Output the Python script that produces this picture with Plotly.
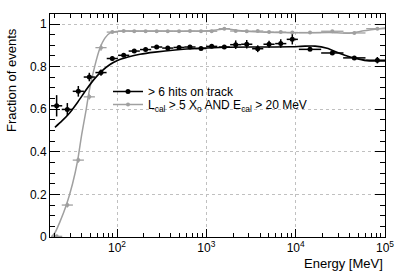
import plotly.graph_objects as go

# ---------------- data ----------------
# black: > 6 hits on track
hits_E = [21.1, 27.8, 36.9, 49.0, 66.2, 88.6, 118.8, 156, 209, 278, 370, 495, 656, 872,
          1148, 1589, 2132, 2833, 3760, 5035, 6808, 9170, 14480, 25720, 45350, 82100]
hits_frac = [0.616, 0.599, 0.684, 0.751, 0.772, 0.838, 0.853, 0.873, 0.880, 0.892, 0.887,
             0.890, 0.892, 0.885, 0.895, 0.892, 0.903, 0.905, 0.884, 0.905, 0.908, 0.928,
             0.881, 0.864, 0.841, 0.830]
hits_err = [0.05, 0.03, 0.025, 0.02, 0.015, 0.01, 0.008, 0.008, 0.008, 0.008, 0.008,
            0.008, 0.008, 0.008, 0.008, 0.008, 0.02, 0.02, 0.016, 0.016, 0.02, 0.024,
            0.008, 0.008, 0.008, 0.015]
# bin half widths in decades
hits_hw = [0.0625] * 22 + [0.125] * 4

# grey: L_cal > 5 X0 AND E_cal > 20 MeV
cal_E = hits_E
cal_frac = [0.003, 0.150, 0.361, 0.658, 0.889, 0.962, 0.967, 0.966, 0.966, 0.966, 0.966,
            0.966, 0.967, 0.966, 0.966, 0.978, 0.967, 0.966, 0.967, 0.962, 0.962, 0.960,
            0.960, 0.966, 0.958, 0.978]
cal_err = [0.004, 0.012, 0.012, 0.012, 0.015, 0.005, 0.004, 0.004, 0.004, 0.004, 0.004,
           0.004, 0.004, 0.004, 0.004, 0.004, 0.004, 0.004, 0.004, 0.004, 0.004, 0.004,
           0.004, 0.004, 0.004, 0.004]
cal_hw = hits_hw

# fitted curves
hits_fit_E = [20.2, 24.2, 29.8, 36.6, 45.0, 55.3, 68.0, 83.5, 102.6, 132.7, 180.8, 266,
              446, 849, 1618, 3990, 8650, 12740, 16480, 22450, 31360, 44970, 62900, 100000]
hits_fit = [0.515, 0.545, 0.585, 0.635, 0.69, 0.74, 0.78, 0.81, 0.83, 0.845, 0.858, 0.868,
            0.878, 0.886, 0.891, 0.892, 0.893, 0.896, 0.896, 0.886, 0.862, 0.841, 0.828, 0.826]

cal_fit_E = [18.5, 20.2, 22.9, 27.1, 31.8, 36.3, 40.2, 44.4, 49.1, 56.2, 64.2, 73.6,
             84.0, 98.5, 125, 239, 870, 1290, 1650, 2440, 4000, 11200, 24100, 40000,
             58000, 100000]
cal_fit = [0.0, 0.02, 0.07, 0.15, 0.25, 0.36, 0.48, 0.58, 0.69, 0.80, 0.885, 0.935, 0.958,
           0.965, 0.967, 0.967, 0.967, 0.972, 0.978, 0.968, 0.962, 0.959, 0.960, 0.957,
           0.968, 0.981]

y_ticks = [0, 0.2, 0.4, 0.6, 0.8, 1.0]
y_ticklabels = ["0", "0.2", "0.4", "0.6", "0.8", "1"]
x_ticks = [100, 1000, 10000, 100000]
x_ticklabels = ["10<sup>2</sup>", "10<sup>3</sup>", "10<sup>4</sup>", "10<sup>5</sup>"]

BLACK = "#000000"
GREY = "#a0a0a0"
FONT = "Liberation Sans, Arial, sans-serif"

W, H = 399, 273
ML, MR, MT, MB = 50, 14, 14, 36
PW, PH = W - ML - MR, H - MT - MB


def px_x(p):
    return (p - ML) / PW


def px_y(p):
    return (H - MB - p) / PH


def xerr(E, hw):
    plus = [e * (10 ** h - 1) for e, h in zip(E, hw)]
    minus = [e * (1 - 10 ** (-h)) for e, h in zip(E, hw)]
    return plus, minus


fig = go.Figure()

# grey fit curve
fig.add_trace(go.Scatter(x=cal_fit_E, y=cal_fit, mode="lines",
                         line=dict(color=GREY, width=1.5, shape="spline", smoothing=0.6),
                         showlegend=False, hoverinfo="skip"))
cp, cm = xerr(cal_E, cal_hw)
fig.add_trace(go.Scatter(x=cal_E, y=cal_frac, mode="markers",
                         marker=dict(color=GREY, size=4, symbol="circle"),
                         error_x=dict(type="data", array=cp, arrayminus=cm, color=GREY, thickness=1.3, width=0),
                         error_y=dict(type="data", array=cal_err, color=GREY, thickness=1.3, width=0),
                         showlegend=False))

# black fit curve
fig.add_trace(go.Scatter(x=hits_fit_E, y=hits_fit, mode="lines",
                         line=dict(color=BLACK, width=1.6, shape="spline", smoothing=0.6),
                         showlegend=False, hoverinfo="skip"))
hp, hm = xerr(hits_E, hits_hw)
fig.add_trace(go.Scatter(x=hits_E, y=hits_frac, mode="markers",
                         marker=dict(color=BLACK, size=5, symbol="circle"),
                         error_x=dict(type="data", array=hp, arrayminus=hm, color=BLACK, thickness=1.5, width=0),
                         error_y=dict(type="data", array=hits_err, color=BLACK, thickness=1.5, width=0),
                         showlegend=False))

# legend entries (each in its own legend box for tight spacing)
fig.add_trace(go.Scatter(x=[None], y=[None], mode="lines+markers", name="&gt; 6 hits on track",
                         line=dict(color=BLACK, width=1.5), marker=dict(color=BLACK, size=5),
                         legend="legend"))
fig.add_trace(go.Scatter(x=[None], y=[None], mode="lines+markers",
                         name="L<sub>cal</sub> &gt; 5 X<sub>o</sub> AND E<sub>cal</sub> &gt; 20 MeV",
                         line=dict(color=GREY, width=1.5), marker=dict(color=GREY, size=4),
                         legend="legend2"))

minor_x = [m * 10 ** d for d in range(1, 5) for m in range(2, 10)]

fig.update_xaxes(type="log", range=[1.25, 5], tickvals=x_ticks, ticktext=x_ticklabels,
                 ticks="inside", ticklen=8, tickwidth=1, tickcolor=BLACK,
                 showline=True, linecolor=BLACK, linewidth=1, mirror="allticks",
                 showgrid=True, gridcolor="#c0c0c0", griddash="dot", gridwidth=1,
                 zeroline=False,
                 minor=dict(tickvals=minor_x, ticks="inside", ticklen=4, tickcolor=BLACK, showgrid=False),
                 tickfont=dict(family=FONT, size=12, color=BLACK))
fig.update_yaxes(range=[0, 1.047], tickvals=y_ticks, ticktext=y_ticklabels,
                 ticks="inside", ticklen=10, tickwidth=1, tickcolor=BLACK,
                 showline=True, linecolor=BLACK, linewidth=1, mirror="allticks",
                 showgrid=True, gridcolor="#c0c0c0", griddash="dot", gridwidth=1,
                 zeroline=False,
                 minor=dict(dtick=0.05, tick0=0, ticks="inside", ticklen=5, tickcolor=BLACK, showgrid=False),
                 tickfont=dict(family=FONT, size=12, color=BLACK))

leg_common = dict(xanchor="left", yanchor="top", bgcolor="rgba(0,0,0,0)",
                  font=dict(family=FONT, size=12, color=BLACK), itemwidth=30, borderwidth=0)

fig.update_layout(
    width=W, height=H,
    margin=dict(l=ML, r=MR, t=MT, b=MB, autoexpand=False),
    paper_bgcolor="white", plot_bgcolor="white",
    font=dict(family=FONT, size=12, color=BLACK),
    legend=dict(x=px_x(108), y=px_y(77), **leg_common),
    legend2=dict(x=px_x(108), y=px_y(90), **leg_common),
    annotations=[
        dict(text="Fraction of events", textangle=-90, xref="paper", yref="paper",
             x=px_x(12), y=px_y(80), xanchor="center", yanchor="middle",
             showarrow=False, font=dict(family=FONT, size=13, color=BLACK)),
        dict(text="Energy [MeV]", xref="paper", yref="paper", x=1.0, y=px_y(263),
             xanchor="right", yanchor="middle", showarrow=False,
             font=dict(family=FONT, size=13, color=BLACK)),
    ],
)

fig.write_html("out.html", config={"displayModeBar": False},
               post_script="document.body.style.margin='0';document.body.style.padding='0';")
